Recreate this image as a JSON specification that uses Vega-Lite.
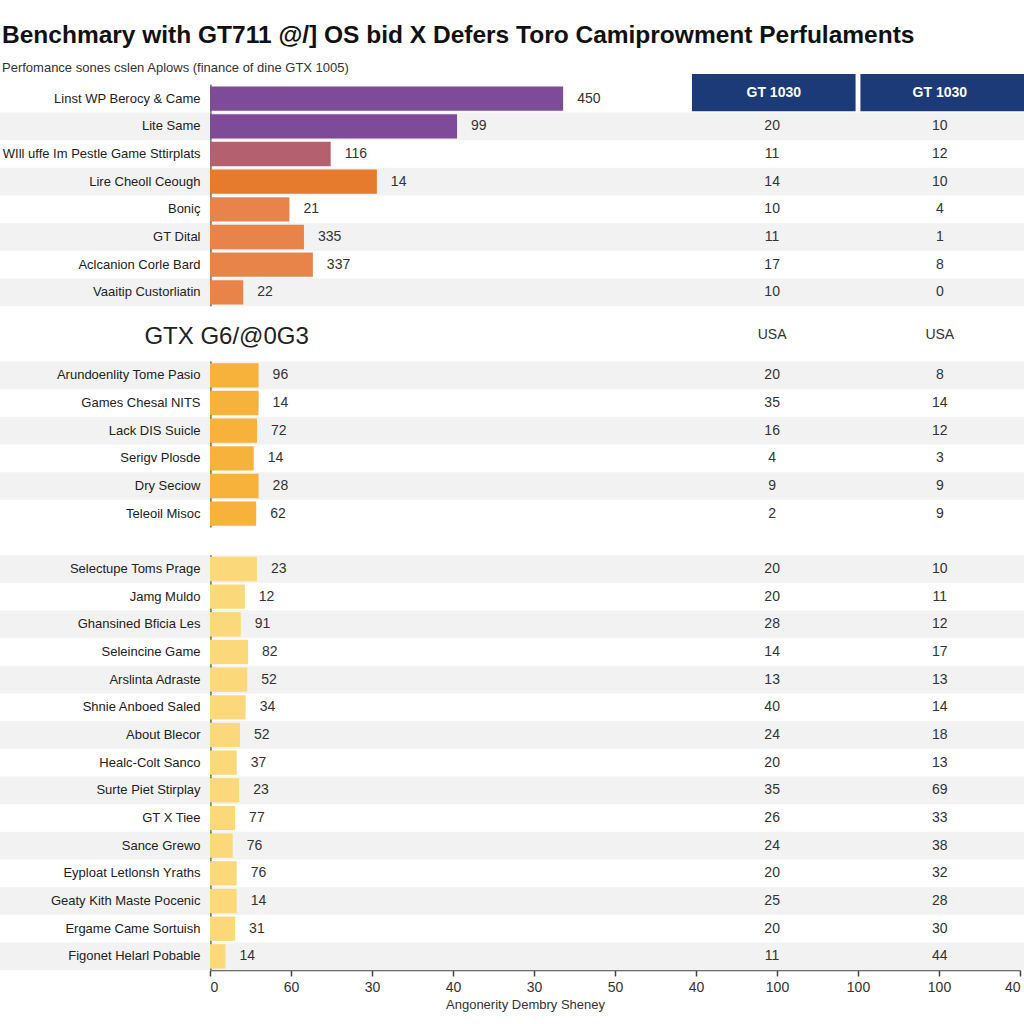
{
  "$schema": "https://vega.github.io/schema/vega-lite/v6.json",
  "autosize": "none",
  "width": 810,
  "height": 913,
  "padding": {"left": 210, "top": 71, "right": 4, "bottom": 40},
  "background": "white",
  "config": {
    "view": {"stroke": null},
    "font": "Liberation Sans, Arial, sans-serif",
    "text": {"font": "Liberation Sans, Arial, sans-serif"}
  },
  "title": {
    "text": "Benchmary with GT711 @/] OS bid X Defers Toro Camiprowment Perfulaments",
    "subtitle": "Perfomance sones cslen Aplows (finance of dine GTX 1005)",
    "anchor": "start",
    "frame": "group",
    "dx": -208,
    "offset": -5,
    "font": "Liberation Sans, Arial, sans-serif",
    "fontSize": 24.5,
    "fontWeight": "bold",
    "color": "#111111",
    "subtitleFont": "Liberation Sans, Arial, sans-serif",
    "subtitleFontSize": 13,
    "subtitleColor": "#333333",
    "subtitlePadding": 14
  },
  "datasets": {
    "rows": [
      {"label": "Linst WP Berocy & Came", "section": 1, "group": "p", "value": 4.36, "text": "450"},
      {"label": "Lite Same", "section": 1, "group": "p", "value": 3.05, "text": "99"},
      {"label": "WIll uffe Im Pestle Game Sttirplats", "section": 1, "group": "m", "value": 1.49, "text": "116"},
      {"label": "Lire Cheoll Ceough", "section": 1, "group": "o1", "value": 2.06, "text": "14"},
      {"label": "Boniç", "section": 1, "group": "o2", "value": 0.98, "text": "21"},
      {"label": "GT Dital", "section": 1, "group": "o2", "value": 1.16, "text": "335"},
      {"label": "Aclcanion Corle Bard", "section": 1, "group": "o2", "value": 1.27, "text": "337"},
      {"label": "Vaaitip Custorliatin", "section": 1, "group": "o2", "value": 0.41, "text": "22"},
      {"label": "Arundoenlity Tome Pasio", "section": 2, "group": "a", "value": 0.6, "text": "96"},
      {"label": "Games Chesal NITS", "section": 2, "group": "a", "value": 0.6, "text": "14"},
      {"label": "Lack DIS Suicle", "section": 2, "group": "a", "value": 0.58, "text": "72"},
      {"label": "Serigv Plosde", "section": 2, "group": "a", "value": 0.54, "text": "14"},
      {"label": "Dry Seciow", "section": 2, "group": "a", "value": 0.6, "text": "28"},
      {"label": "Teleoil Misoc", "section": 2, "group": "a", "value": 0.57, "text": "62"},
      {"label": "Selectupe Toms Prage", "section": 3, "group": "y", "value": 0.58, "text": "23"},
      {"label": "Jamg Muldo", "section": 3, "group": "y", "value": 0.43, "text": "12"},
      {"label": "Ghansined Bficia Les", "section": 3, "group": "y", "value": 0.38, "text": "91"},
      {"label": "Seleincine Game", "section": 3, "group": "y", "value": 0.47, "text": "82"},
      {"label": "Arslinta Adraste", "section": 3, "group": "y", "value": 0.46, "text": "52"},
      {"label": "Shnie Anboed Saled", "section": 3, "group": "y", "value": 0.44, "text": "34"},
      {"label": "About Blecor", "section": 3, "group": "y", "value": 0.37, "text": "52"},
      {"label": "Healc-Colt Sanco", "section": 3, "group": "y", "value": 0.33, "text": "37"},
      {"label": "Surte Piet Stirplay", "section": 3, "group": "y", "value": 0.36, "text": "23"},
      {"label": "GT X Tiee", "section": 3, "group": "y", "value": 0.31, "text": "77"},
      {"label": "Sance Grewo", "section": 3, "group": "y", "value": 0.28, "text": "76"},
      {"label": "Eyploat Letlonsh Yraths", "section": 3, "group": "y", "value": 0.33, "text": "76"},
      {"label": "Geaty Kith Maste Pocenic", "section": 3, "group": "y", "value": 0.33, "text": "14"},
      {"label": "Ergame Came Sortuish", "section": 3, "group": "y", "value": 0.31, "text": "31"},
      {"label": "Figonet Helarl Pobable", "section": 3, "group": "y", "value": 0.19, "text": "14"}
    ],
    "table": [
      {"label": "Lite Same", "v1": "20", "v2": "10"},
      {"label": "WIll uffe Im Pestle Game Sttirplats", "v1": "11", "v2": "12"},
      {"label": "Lire Cheoll Ceough", "v1": "14", "v2": "10"},
      {"label": "Boniç", "v1": "10", "v2": "4"},
      {"label": "GT Dital", "v1": "11", "v2": "1"},
      {"label": "Aclcanion Corle Bard", "v1": "17", "v2": "8"},
      {"label": "Vaaitip Custorliatin", "v1": "10", "v2": "0"},
      {"label": "Arundoenlity Tome Pasio", "v1": "20", "v2": "8"},
      {"label": "Games Chesal NITS", "v1": "35", "v2": "14"},
      {"label": "Lack DIS Suicle", "v1": "16", "v2": "12"},
      {"label": "Serigv Plosde", "v1": "4", "v2": "3"},
      {"label": "Dry Seciow", "v1": "9", "v2": "9"},
      {"label": "Teleoil Misoc", "v1": "2", "v2": "9"},
      {"label": "Selectupe Toms Prage", "v1": "20", "v2": "10"},
      {"label": "Jamg Muldo", "v1": "20", "v2": "11"},
      {"label": "Ghansined Bficia Les", "v1": "28", "v2": "12"},
      {"label": "Seleincine Game", "v1": "14", "v2": "17"},
      {"label": "Arslinta Adraste", "v1": "13", "v2": "13"},
      {"label": "Shnie Anboed Saled", "v1": "40", "v2": "14"},
      {"label": "About Blecor", "v1": "24", "v2": "18"},
      {"label": "Healc-Colt Sanco", "v1": "20", "v2": "13"},
      {"label": "Surte Piet Stirplay", "v1": "35", "v2": "69"},
      {"label": "GT X Tiee", "v1": "26", "v2": "33"},
      {"label": "Sance Grewo", "v1": "24", "v2": "38"},
      {"label": "Eyploat Letlonsh Yraths", "v1": "20", "v2": "32"},
      {"label": "Geaty Kith Maste Pocenic", "v1": "25", "v2": "28"},
      {"label": "Ergame Came Sortuish", "v1": "20", "v2": "30"},
      {"label": "Figonet Helarl Pobable", "v1": "11", "v2": "44"}
    ],
    "heads": [
      {"label": "Linst WP Berocy & Came", "h1": "GT 1030", "h2": "GT 1030"}
    ],
    "sect": [
      {"label": "  ", "name": "GTX G6/@0G3", "h1": "USA", "h2": "USA"}
    ]
  },
  "layer": [
    {
      "data": {"name": "rows"},
      "transform": [
        {"window": [{"op": "row_number", "as": "rn"}], "groupby": ["section"]},
        {"filter": "(datum.section == 1 && datum.rn % 2 == 0) || (datum.section != 1 && datum.rn % 2 == 1)"}
      ],
      "mark": {"type": "bar", "color": "#f2f2f2", "height": {"band": 1}},
      "encoding": {
        "x": {"datum": -2.6, "type": "quantitative"},
        "x2": {"datum": 10.1},
        "y": {
          "field": "label", "type": "nominal", "title": null,
          "scale": {
            "domain": [
              "Linst WP Berocy & Came", "Lite Same", "WIll uffe Im Pestle Game Sttirplats", "Lire Cheoll Ceough",
              "Boniç", "GT Dital", "Aclcanion Corle Bard", "Vaaitip Custorliatin", " ", "  ",
              "Arundoenlity Tome Pasio", "Games Chesal NITS", "Lack DIS Suicle", "Serigv Plosde", "Dry Seciow", "Teleoil Misoc", "   ",
              "Selectupe Toms Prage", "Jamg Muldo", "Ghansined Bficia Les", "Seleincine Game", "Arslinta Adraste",
              "Shnie Anboed Saled", "About Blecor", "Healc-Colt Sanco", "Surte Piet Stirplay", "GT X Tiee", "Sance Grewo",
              "Eyploat Letlonsh Yraths", "Geaty Kith Maste Pocenic", "Ergame Came Sortuish", "Figonet Helarl Pobable"
            ],
            "paddingInner": 0,
            "paddingOuter": 0.5
          },
          "axis": {
            "domain": false, "ticks": false, "labelPadding": 10, "labelFontSize": 13,
            "labelColor": "#222222", "labelFont": "Liberation Sans, Arial, sans-serif",
            "labelLimit": 260, "zindex": 1, "grid": false
          }
        }
      }
    },
    {
      "mark": {"type": "rule", "color": "#8a8a8a", "strokeDash": [3, 3], "strokeWidth": 1.2},
      "encoding": {"x": {"datum": 5.88, "type": "quantitative"}}
    },
    {
      "mark": {"type": "rule", "color": "#8a8a8a", "strokeDash": [3, 3], "strokeWidth": 1.2},
      "encoding": {"x": {"datum": 8.0, "type": "quantitative"}}
    },
    {
      "data": {"name": "rows"},
      "mark": {"type": "bar", "color": "#7a7a7a", "height": {"band": 1}},
      "encoding": {
        "x": {"datum": 0, "type": "quantitative"},
        "x2": {"datum": 0.022},
        "y": {"field": "label", "type": "nominal", "title": null}
      }
    },
    {
      "data": {"name": "rows"},
      "mark": {"type": "bar", "height": {"band": 0.88}},
      "encoding": {
        "x": {
          "field": "value", "type": "quantitative",
          "title": "Angonerity Dembry Sheney",
          "scale": {"domain": [0, 10], "nice": false, "zero": true},
          "axis": {
            "values": [0, 1, 2, 3, 4, 5, 6, 7, 8, 9, 10],
            "labelExpr": "['0','60','30','40','30','50','40','100','100','100','40'][datum.value]",
            "grid": false, "offset": -14,
            "domainColor": "#444444", "domainWidth": 1.5,
            "tickColor": "#444444", "tickWidth": 1.5, "tickSize": 6,
            "labelFontSize": 14, "labelColor": "#333333", "labelPadding": 4,
            "labelFont": "Liberation Sans, Arial, sans-serif",
            "titleFontSize": 13, "titleFontWeight": "normal", "titleColor": "#333333",
            "titleFont": "Liberation Sans, Arial, sans-serif",
            "titlePadding": 4, "titleX": 315
          }
        },
        "y": {"field": "label", "type": "nominal", "title": null},
        "color": {
          "field": "group", "type": "nominal", "legend": null,
          "scale": {
            "domain": ["p", "m", "o1", "o2", "a", "y"],
            "range": ["#7e4b98", "#b5606f", "#e67b2d", "#e8834a", "#f6b23b", "#fbd97a"]
          }
        }
      }
    },
    {
      "data": {"name": "rows"},
      "mark": {"type": "text", "align": "left", "baseline": "middle", "dx": 14, "fontSize": 14, "color": "#333333"},
      "encoding": {
        "x": {"field": "value", "type": "quantitative"},
        "y": {"field": "label", "type": "nominal", "title": null},
        "text": {"field": "text"}
      }
    },
    {
      "data": {"name": "table"},
      "mark": {"type": "text", "align": "center", "baseline": "middle", "fontSize": 14, "color": "#333333"},
      "encoding": {
        "x": {"datum": 6.94, "type": "quantitative"},
        "y": {"field": "label", "type": "nominal", "title": null},
        "text": {"field": "v1"}
      }
    },
    {
      "data": {"name": "table"},
      "mark": {"type": "text", "align": "center", "baseline": "middle", "fontSize": 14, "color": "#333333"},
      "encoding": {
        "x": {"datum": 9.01, "type": "quantitative"},
        "y": {"field": "label", "type": "nominal", "title": null},
        "text": {"field": "v2"}
      }
    },
    {
      "data": {"name": "heads"},
      "mark": {"type": "bar", "color": "#1d3a78", "height": {"band": 1.35}, "yOffset": -6},
      "encoding": {
        "x": {"datum": 5.95, "type": "quantitative"},
        "x2": {"datum": 7.97},
        "y": {"field": "label", "type": "nominal", "title": null}
      }
    },
    {
      "data": {"name": "heads"},
      "mark": {"type": "bar", "color": "#1d3a78", "height": {"band": 1.35}, "yOffset": -6},
      "encoding": {
        "x": {"datum": 8.03, "type": "quantitative"},
        "x2": {"datum": 10.1},
        "y": {"field": "label", "type": "nominal", "title": null}
      }
    },
    {
      "data": {"name": "heads"},
      "mark": {"type": "text", "align": "center", "baseline": "middle", "fontSize": 14, "fontWeight": "bold", "color": "white", "dy": -6},
      "encoding": {
        "x": {"datum": 6.96, "type": "quantitative"},
        "y": {"field": "label", "type": "nominal", "title": null},
        "text": {"field": "h1"}
      }
    },
    {
      "data": {"name": "heads"},
      "mark": {"type": "text", "align": "center", "baseline": "middle", "fontSize": 14, "fontWeight": "bold", "color": "white", "dy": -6},
      "encoding": {
        "x": {"datum": 9.01, "type": "quantitative"},
        "y": {"field": "label", "type": "nominal", "title": null},
        "text": {"field": "h2"}
      }
    },
    {
      "data": {"name": "sect"},
      "mark": {"type": "text", "align": "right", "baseline": "middle", "fontSize": 24, "color": "#222222", "dy": -11},
      "encoding": {
        "x": {"datum": 1.22, "type": "quantitative"},
        "y": {"field": "label", "type": "nominal", "title": null},
        "text": {"field": "name"}
      }
    },
    {
      "data": {"name": "sect"},
      "mark": {"type": "text", "align": "center", "baseline": "middle", "fontSize": 14, "color": "#333333", "dy": -13},
      "encoding": {
        "x": {"datum": 6.94, "type": "quantitative"},
        "y": {"field": "label", "type": "nominal", "title": null},
        "text": {"field": "h1"}
      }
    },
    {
      "data": {"name": "sect"},
      "mark": {"type": "text", "align": "center", "baseline": "middle", "fontSize": 14, "color": "#333333", "dy": -13},
      "encoding": {
        "x": {"datum": 9.01, "type": "quantitative"},
        "y": {"field": "label", "type": "nominal", "title": null},
        "text": {"field": "h2"}
      }
    }
  ]
}
